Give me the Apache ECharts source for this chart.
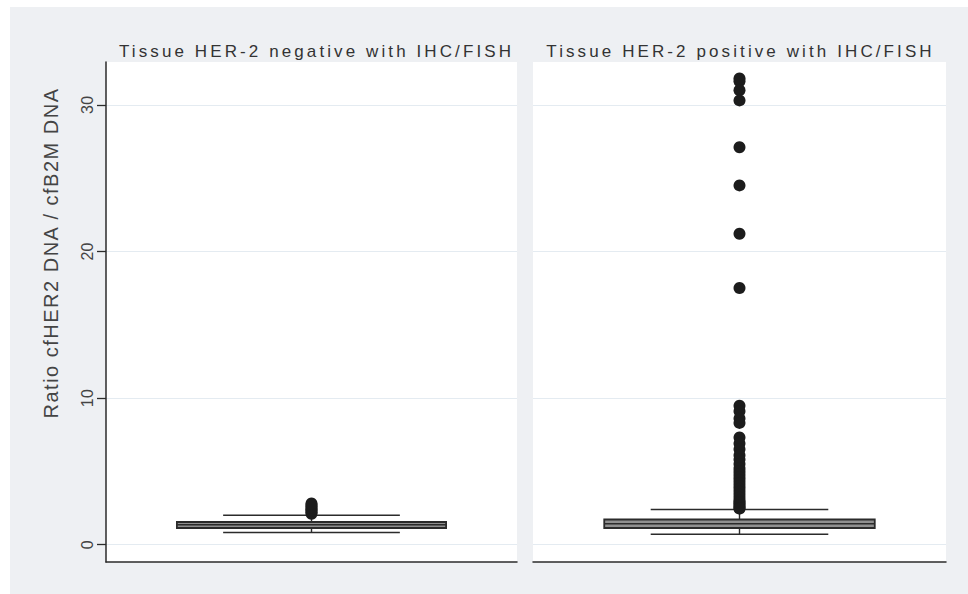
<!DOCTYPE html>
<html><head><meta charset="utf-8">
<script src="https://cdn.jsdelivr.net/npm/echarts@6/dist/echarts.min.js"></script>
<style>
html,body{margin:0;padding:0;background:#fff}
#c{width:968px;height:594px}
#c text{letter-spacing:3.1px}
#c text[style*="20px"]{letter-spacing:1.5px}
#c text[style*="16px"]{letter-spacing:0.3px}
</style>
</head><body><div id="c"></div>
<script>
// ---- data ----
const panelTitles = ['Tissue HER-2 negative with IHC/FISH', 'Tissue HER-2 positive with IHC/FISH'];
const yTitle = 'Ratio cfHER2 DNA / cfB2M DNA';
const yTicks = [0, 10, 20, 30];
// [min(whisker), q1, median, q3, max(whisker)]
const boxNeg = [0.82, 1.13, 1.35, 1.54, 2.0];
const boxPos = [0.70, 1.13, 1.42, 1.71, 2.39];
const outNeg = [2.1, 2.2, 2.3, 2.4, 2.5, 2.6, 2.7, 2.8];
const outPos = [31.8, 31.6, 31.0, 30.3, 27.1, 24.5, 21.2, 17.5,
  9.47, 9.1, 8.6, 8.3, 7.3, 6.9, 6.5, 6.1, 5.8, 5.5, 5.2, 5.0, 4.8, 4.6, 4.4, 4.2,
  4.0, 3.8, 3.6, 3.4, 3.2, 3.0, 2.9, 2.8, 2.7, 2.6, 2.5, 2.45];

const yMin = -1.19, yMax = 32.92;
const chart = echarts.init(document.getElementById('c'), null, {renderer: 'svg'});

function boxRender(params, api) {
  const x = api.value(0);
  const band = api.size([1, 0])[0];
  const bw = band * 0.655, cw = band * 0.43;
  const pMin = api.coord([x, api.value(1)]);
  const pQ1 = api.coord([x, api.value(2)]);
  const pMed = api.coord([x, api.value(3)]);
  const pQ3 = api.coord([x, api.value(4)]);
  const pMax = api.coord([x, api.value(5)]);
  const cx = pMed[0];
  const ls = {stroke: '#2b2b2b', lineWidth: 1.4};
  return {type: 'group', children: [
    {type: 'line', shape: {x1: cx, y1: pMin[1], x2: cx, y2: pQ1[1]}, style: ls},
    {type: 'line', shape: {x1: cx, y1: pQ3[1], x2: cx, y2: pMax[1]}, style: ls},
    {type: 'line', shape: {x1: cx - cw/2, y1: pMin[1], x2: cx + cw/2, y2: pMin[1]}, style: ls},
    {type: 'line', shape: {x1: cx - cw/2, y1: pMax[1], x2: cx + cw/2, y2: pMax[1]}, style: ls},
    {type: 'rect', shape: {x: cx - bw/2, y: pQ3[1], width: bw, height: pQ1[1] - pQ3[1]},
      style: {fill: '#8f8f8f', stroke: '#2b2b2b', lineWidth: 1.8}},
    {type: 'line', shape: {x1: cx - bw/2, y1: pMed[1], x2: cx + bw/2, y2: pMed[1]}, style: {stroke: '#2b2b2b', lineWidth: 1.6}}
  ]};
}

const gridDefs = [{left: 106, top: 62, width: 411, height: 500}, {left: 533, top: 62, width: 413, height: 500}];

function yAxis(i) {
  return {
    type: 'value', gridIndex: i, min: yMin, max: yMax,
    axisLine: {show: i === 0, lineStyle: {color: '#2b2b2b', width: 1.5}},
    axisTick: {show: i === 0, length: 9, lineStyle: {color: '#2b2b2b', width: 1.3}, customValues: yTicks},
    axisLabel: {show: i === 0, rotate: 90, color: '#444', fontSize: 16, fontFamily: 'Liberation Sans, Arial', margin: 11, customValues: yTicks},
    splitLine: {show: true, lineStyle: {color: '#e4ebf1', width: 1.2}}
  };
}
function xAxis(i) {
  return {
    type: 'category', gridIndex: i, data: [panelTitles[i]],
    axisLine: {show: true, onZero: false, lineStyle: {color: '#2b2b2b', width: 1.5}},
    axisTick: {show: false}, axisLabel: {show: false}, splitLine: {show: false}
  };
}

chart.setOption({
  animation: false,
  backgroundColor: '#fff',
  graphic: [
    {type: 'rect', left: 10, top: 7, shape: {width: 958, height: 587}, style: {fill: '#eef0f3'}, z: -100, silent: true},
    {type: 'text', x: 51, y: 253, rotation: Math.PI / 2, silent: true,
      style: {text: yTitle, align: 'center', verticalAlign: 'middle', fill: '#444', fontSize: 20, fontFamily: 'Liberation Sans, Arial'}}
  ],
  title: panelTitles.map((t, i) => ({
    text: t, left: gridDefs[i].left + gridDefs[i].width / 2 - (i === 1 ? 4 : 0), top: 38, textAlign: 'center',
    textStyle: {color: '#333', fontSize: 17, fontWeight: 'normal', fontFamily: 'Liberation Sans, Arial'}
  })),
  grid: gridDefs.map(g => Object.assign({show: true, backgroundColor: '#fff', borderWidth: 0}, g)),
  xAxis: [xAxis(0), xAxis(1)],
  yAxis: [yAxis(0), yAxis(1)],
  series: [
    {type: 'custom', xAxisIndex: 0, yAxisIndex: 0, renderItem: boxRender, data: [[0].concat(boxNeg)], encode: {x: 0, y: [1,2,3,4,5]}},
    {type: 'custom', xAxisIndex: 1, yAxisIndex: 1, renderItem: boxRender, data: [[0].concat(boxPos)], encode: {x: 0, y: [1,2,3,4,5]}},
    {type: 'scatter', xAxisIndex: 0, yAxisIndex: 0, symbolSize: 12, itemStyle: {color: '#1c1c1c', opacity: 1}, data: outNeg.map(v => [0, v])},
    {type: 'scatter', xAxisIndex: 1, yAxisIndex: 1, symbolSize: 12, itemStyle: {color: '#1c1c1c', opacity: 1}, data: outPos.map(v => [0, v])}
  ]
});
</script></body></html>
